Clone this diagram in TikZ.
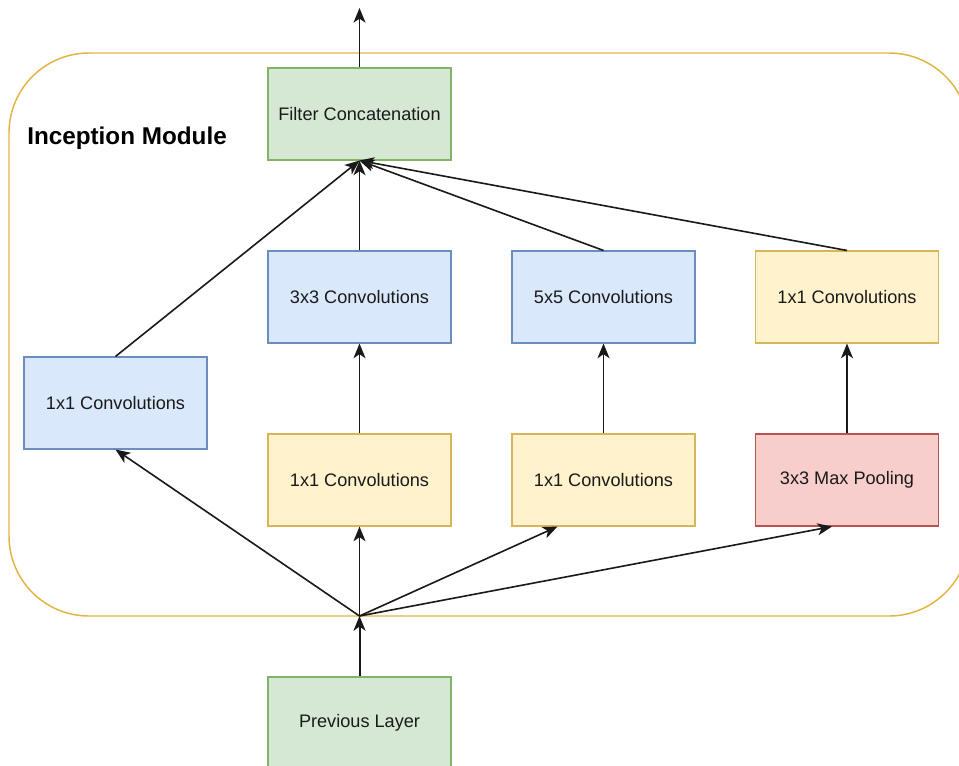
\documentclass[tikz,border=0pt]{standalone}
\usepackage{fontspec}
\setmainfont{Liberation Sans}
\usetikzlibrary{arrows.meta,calc}

\definecolor{blueFill}{HTML}{DAE8FC}
\definecolor{blueLine}{HTML}{6C8EBF}
\definecolor{yellowFill}{HTML}{FFF2CC}
\definecolor{yellowLine}{HTML}{D6B656}
\definecolor{greenFill}{HTML}{D5E8D4}
\definecolor{greenLine}{HTML}{82B366}
\definecolor{redFill}{HTML}{F8CECC}
\definecolor{redLine}{HTML}{B85450}
\definecolor{moduleLine}{HTML}{E2B443}
\definecolor{textCol}{HTML}{1A1A1A}

\tikzset{
  layerbox/.style={draw, line width=0.8pt, minimum width=137.25pt, minimum height=69pt,
    inner sep=0pt, align=center, font=\fontsize{13.6}{16}\selectfont, text=textCol},
  bluebox/.style={layerbox, fill=blueFill, draw=blueLine},
  yellowbox/.style={layerbox, fill=yellowFill, draw=yellowLine},
  greenbox/.style={layerbox, fill=greenFill, draw=greenLine},
  redbox/.style={layerbox, fill=redFill, draw=redLine},
  flow/.style={line width=1.2pt, draw=black!90, -{Stealth[length=11pt,width=9pt,inset=3pt]}},
  modulebox/.style={draw=moduleLine, line width=1.1pt, rounded corners=60pt},
}

\begin{document}
\begin{tikzpicture}[x=0.75pt, y=-0.75pt]
  \useasboundingbox (0,0) rectangle (959,765);
  \clip (0,0) rectangle (959,765);

  % module frame
  \draw[modulebox] (9,53) rectangle (969,616);
  \node[anchor=west, inner sep=0pt, font=\bfseries\fontsize{18.2}{21}\selectfont, text=black]
    (title) at (27,138) {Inception Module};

  % boxes
  \node[greenbox]  (concat) at (359.5,114)  {Filter Concatenation};
  \node[bluebox]   (conv3)  at (359.5,297)  {3x3 Convolutions};
  \node[bluebox]   (conv5)  at (603.5,297)  {5x5 Convolutions};
  \node[yellowbox] (projP)  at (847,297)    {1x1 Convolutions};
  \node[bluebox]   (conv1)  at (115.5,403)  {1x1 Convolutions};
  \node[yellowbox] (red3)   at (359.5,480)  {1x1 Convolutions};
  \node[yellowbox] (red5)   at (603.5,480)  {1x1 Convolutions};
  \node[redbox]    (pool)   at (847,480)    {3x3 Max Pooling};
  \node[greenbox]  (prev)   at (359.5,723)  {Previous Layer};

  \coordinate (hub) at (359.5,616);
  \coordinate (out) at (359.5,8);

  % input fan-out
  \draw[flow, line width=1.5pt] (prev.north) -- (hub);
  \draw[flow] (hub) -- (conv1.south);
  \draw[flow] (hub) -- (red3.south);
  \draw[flow] (hub) -- ($(red5.south)+(-46,0)$);
  \draw[flow] (hub) -- ($(pool.south)+(-15,0)$);

  % stacked branches
  \draw[flow] (red3.north) -- (conv3.south);
  \draw[flow] (red5.north) -- (conv5.south);
  \draw[flow] (pool.north) -- (projP.south);

  % concatenation
  \draw[flow] (conv1.north) -- (concat.south);
  \draw[flow] (conv3.north) -- (concat.south);
  \draw[flow] (conv5.north) -- (concat.south);
  \draw[flow] (projP.north) -- (concat.south);
  \draw[flow] (concat.north) -- (out);
\end{tikzpicture}
\end{document}
